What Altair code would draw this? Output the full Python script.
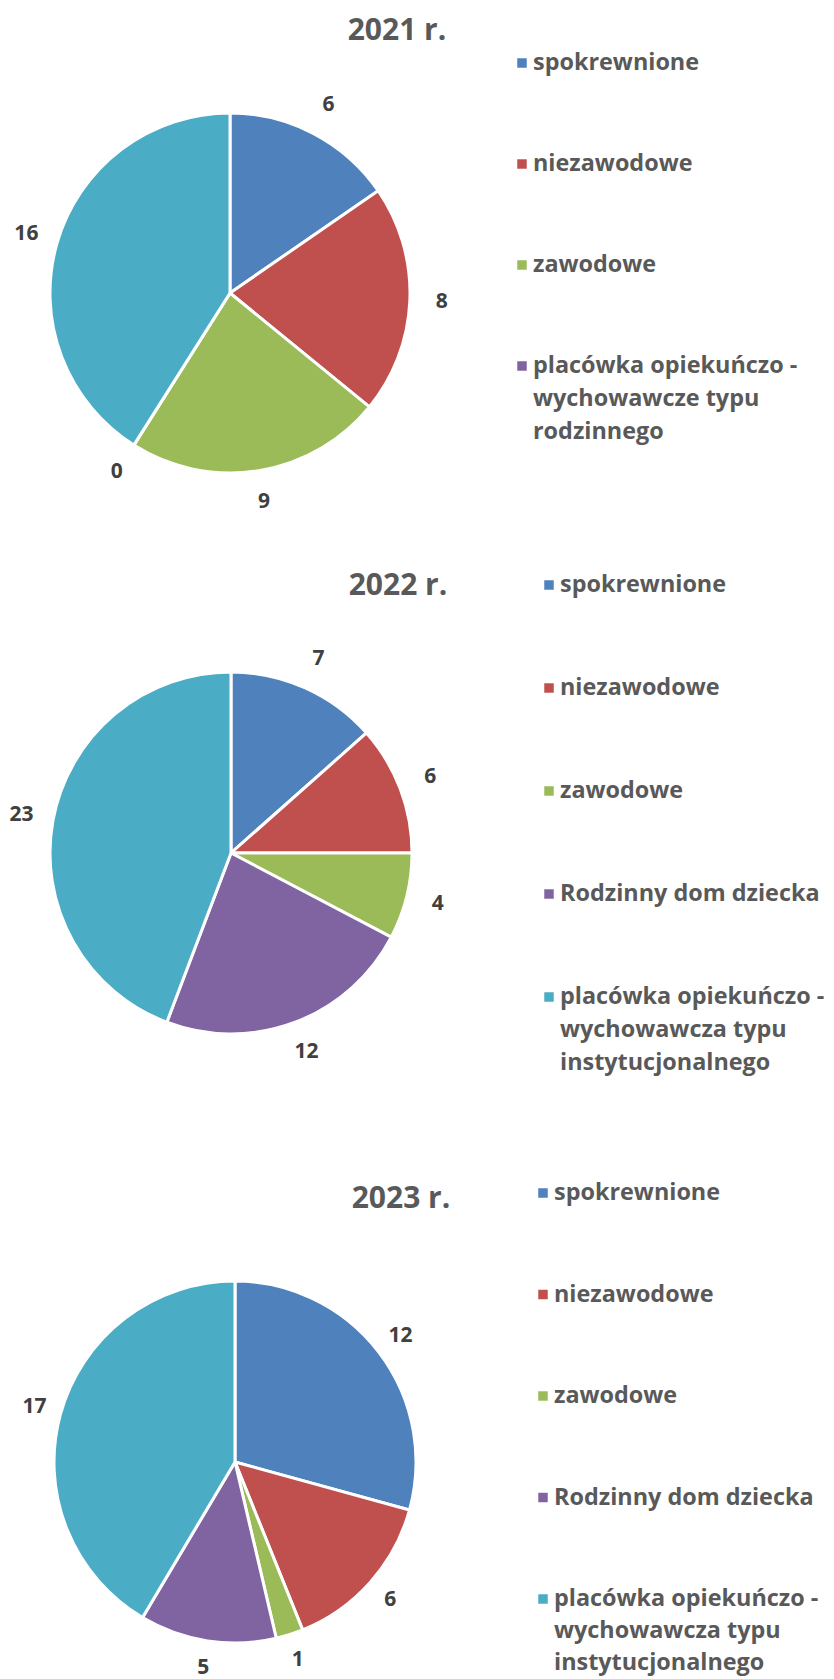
import altair as alt
import pandas as pd

# ---------------- data ----------------
years = ["2021 r.", "2022 r.", "2023 r."]

slice_names_2021 = ["spokrewnione", "niezawodowe", "zawodowe",
                    "placówka opiekuńczo - wychowawcze typu rodzinnego",
                    "placówka opiekuńczo - wychowawcza typu instytucjonalnego"]
values_2021 = [6, 8, 9, 0, 16]

slice_names_2022 = ["spokrewnione", "niezawodowe", "zawodowe",
                    "Rodzinny dom dziecka",
                    "placówka opiekuńczo - wychowawcza typu instytucjonalnego"]
values_2022 = [7, 6, 4, 12, 23]

slice_names_2023 = ["spokrewnione", "niezawodowe", "zawodowe",
                    "Rodzinny dom dziecka",
                    "placówka opiekuńczo - wychowawcza typu instytucjonalnego"]
values_2023 = [12, 6, 1, 5, 17]

legend_2021 = ["spokrewnione", "niezawodowe", "zawodowe",
               "placówka opiekuńczo -\nwychowawcze typu\nrodzinnego"]
legend_2022 = ["spokrewnione", "niezawodowe", "zawodowe",
               "Rodzinny dom dziecka",
               "placówka opiekuńczo -\nwychowawcza typu\ninstytucjonalnego"]
legend_2023 = ["spokrewnione", "niezawodowe", "zawodowe",
               "Rodzinny dom dziecka",
               "placówka opiekuńczo -\nwychowawcza typu\ninstytucjonalnego"]

colors = ["#4F81BD", "#C0504D", "#9BBB59", "#8064A2", "#4BACC6"]

FONT = "Open Sans"
TEXT_GRAY = "#595959"
LABEL_GRAY = "#404040"

color_scale = alt.Scale(domain=[0, 1, 2, 3, 4], range=colors)


def section(title, names, values, legend_labels, *, h, cx, cy, r, label_off,
            title_x, title_y, leg_x, leg_y0, leg_step, line_h):
    pie_df = pd.DataFrame({"idx": list(range(len(values))),
                           "name": names, "value": values})
    leg_df = pd.DataFrame({"idx": list(range(len(legend_labels))),
                           "label": legend_labels})
    n = len(legend_labels)
    leg_range = [leg_y0, leg_y0 + leg_step * (n - 1)]

    base = alt.Chart(pie_df).encode(
        theta=alt.Theta("value:Q", stack=True),
        order=alt.Order("idx:Q", sort="ascending"),
        x=alt.value(cx), y=alt.value(cy),
    )
    arcs = base.mark_arc(outerRadius=r, stroke="white", strokeWidth=3).encode(
        color=alt.Color("idx:O", scale=color_scale, legend=None),
    )
    labels = base.mark_text(radius=r + label_off, font=FONT, fontWeight="bold",
                            fontSize=21, color=LABEL_GRAY,
                            align="center", baseline="middle").encode(
        text=alt.Text("value:Q"),
    )
    title_mark = alt.Chart(pd.DataFrame({"t": [title]})).mark_text(
        font=FONT, fontWeight="bold", fontSize=30, color=TEXT_GRAY,
        align="center", baseline="middle"
    ).encode(text="t:N", x=alt.value(title_x), y=alt.value(title_y))

    yenc = alt.Y("idx:O", axis=None,
                 scale=alt.Scale(type="point", range=leg_range, padding=0))
    squares = alt.Chart(leg_df).mark_square(size=90, opacity=1).encode(
        y=yenc, x=alt.value(leg_x),
        color=alt.Color("idx:O", scale=color_scale, legend=None),
    )
    texts = alt.Chart(leg_df).mark_text(
        font=FONT, fontWeight="bold", fontSize=23.4, color=TEXT_GRAY,
        align="left", baseline="alphabetic", lineBreak="\n",
        lineHeight=line_h, dx=11, dy=7
    ).encode(y=yenc, x=alt.value(leg_x), text="label:N")

    return alt.layer(arcs, labels, title_mark, squares, texts).properties(
        width=818, height=h
    )


s1 = section(years[0], slice_names_2021, values_2021, legend_2021,
             h=540, cx=222, cy=285, r=180, label_off=32,
             title_x=389, title_y=23,
             leg_x=514, leg_y0=55, leg_step=101, line_h=33)
s2 = section(years[1], slice_names_2022, values_2022, legend_2022,
             h=570, cx=223, cy=305, r=181, label_off=32,
             title_x=390, title_y=38,
             leg_x=541, leg_y0=37, leg_step=103, line_h=33)
s3 = section(years[2], slice_names_2023, values_2023, legend_2023,
             h=553, cx=227, cy=344, r=181, label_off=27,
             title_x=393, title_y=81,
             leg_x=535, leg_y0=75, leg_step=101.5, line_h=32)

chart = alt.vconcat(s1, s2, s3, spacing=0).properties(
    padding=0
).configure_view(stroke=None).configure_concat(spacing=0)

chart.save("out.html", embed_options={"renderer": "svg", "actions": False})
